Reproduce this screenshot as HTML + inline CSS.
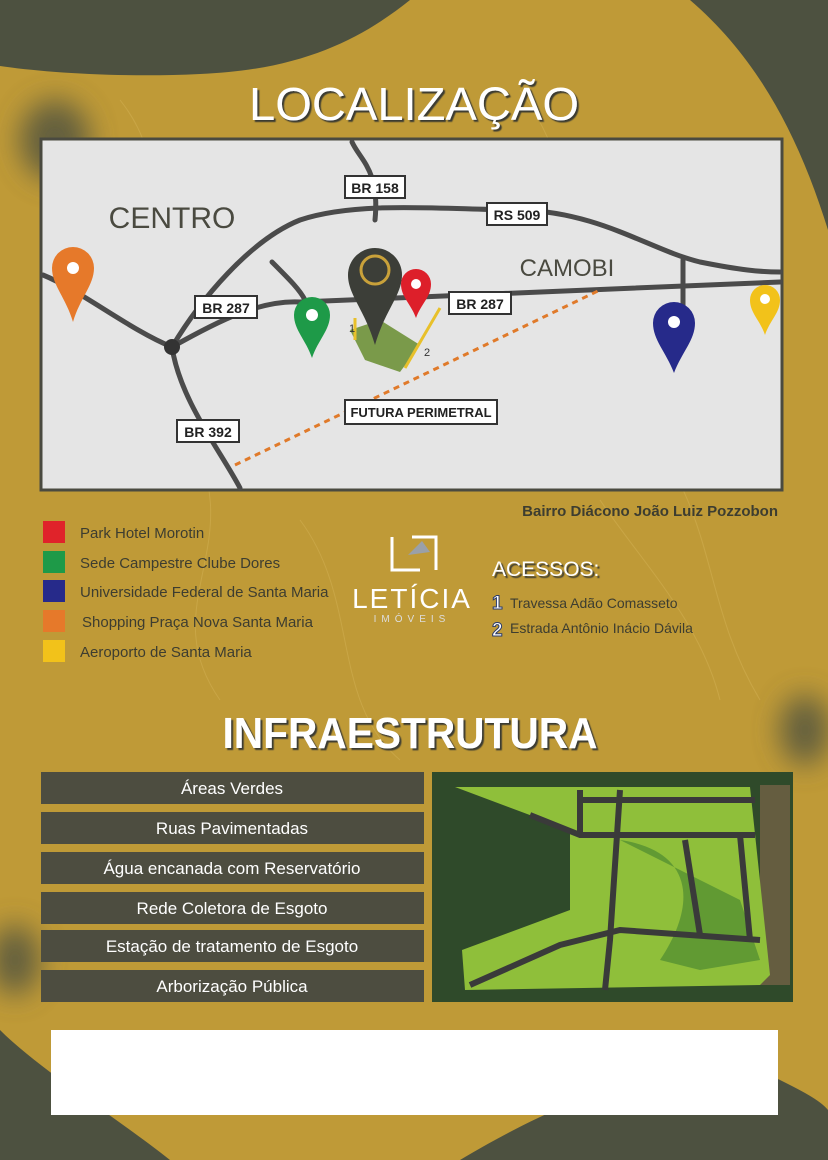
<!DOCTYPE html>
<html><head><meta charset="utf-8"><style>
body{margin:0;width:828px;height:1160px;overflow:hidden;background:#bf9a37;}
svg{display:block}
text{font-family:"Liberation Sans",sans-serif}
</style></head><body>
<svg width="828" height="1160" viewBox="0 0 828 1160" xmlns="http://www.w3.org/2000/svg">
<defs>
<filter id="bl" x="-100%" y="-100%" width="300%" height="300%"><feGaussianBlur stdDeviation="14"/></filter>
<filter id="sh"><feDropShadow dx="2" dy="2" stdDeviation="0.5" flood-color="#3a3a30"/></filter>
</defs>
<rect width="828" height="1160" fill="#bf9a37"/>
<g fill="none" stroke="#d4b256" stroke-width="1" opacity="0.5">
<path d="M120 100 C200 200 100 300 180 420 S150 600 220 700"/>
<path d="M520 90 C600 200 560 320 640 420 S700 600 760 700"/>
<path d="M300 520 C360 600 330 700 400 760"/>
<path d="M600 500 C640 560 700 620 720 700"/>
</g>
<path d="M0 0 L410 0 C360 40 300 70 200 74 C120 78 40 72 0 66 Z" fill="#4d5140"/>
<path d="M690 0 L828 0 L828 230 C800 140 760 60 690 0 Z" fill="#4d5140"/>
<ellipse cx="55" cy="140" rx="35" ry="40" fill="#4d5140" filter="url(#bl)" opacity="0.8"/>
<ellipse cx="805" cy="730" rx="25" ry="35" fill="#4d5140" filter="url(#bl)" opacity="0.8"/>
<ellipse cx="15" cy="960" rx="25" ry="35" fill="#4d5140" filter="url(#bl)" opacity="0.8"/>
<path d="M0 1030 C40 1070 120 1120 170 1160 L0 1160 Z" fill="#4d5140"/>
<path d="M460 1160 C560 1100 700 1040 780 1080 C800 1090 820 1100 828 1110 L828 1160 Z" fill="#4d5140"/>
<text x="414" y="120" text-anchor="middle" font-size="46" fill="#fff" filter="url(#sh)" textLength="330" lengthAdjust="spacingAndGlyphs">LOCALIZAÇÃO</text>
<rect x="41" y="139" width="741" height="351" fill="#e5e5e5" stroke="#4a4a40" stroke-width="3"/>
<g fill="none" stroke="#4b4b4b" stroke-width="5" stroke-linecap="round">
<path d="M43 275 C80 290 130 330 172 347 C220 320 260 300 300 302 L780 282"/>
<path d="M172 347 C180 400 220 450 240 488"/>
<path d="M172 347 C200 300 250 240 300 220 C360 200 450 210 520 210 C600 212 650 250 700 262 C740 270 760 272 780 272"/>
<path d="M352 142 C360 160 380 170 375 220"/>
<path d="M272 262 C290 280 300 290 305 300"/>
<path d="M683 260 L683 305"/>
</g>
<circle cx="172" cy="347" r="8" fill="#333"/>
<path d="M235 465 L600 290" stroke="#e07a2a" stroke-width="3" stroke-dasharray="6 5" fill="none"/>
<g font-size="14" font-weight="bold" fill="#222" text-anchor="middle">
<rect x="345" y="176" width="60" height="22" fill="#fff" stroke="#333" stroke-width="2"/><text x="375" y="193">BR 158</text>
<rect x="487" y="203" width="60" height="22" fill="#fff" stroke="#333" stroke-width="2"/><text x="517" y="220">RS 509</text>
<rect x="195" y="296" width="62" height="22" fill="#fff" stroke="#333" stroke-width="2"/><text x="226" y="313">BR 287</text>
<rect x="449" y="292" width="62" height="22" fill="#fff" stroke="#333" stroke-width="2"/><text x="480" y="309">BR 287</text>
<rect x="177" y="420" width="62" height="22" fill="#fff" stroke="#333" stroke-width="2"/><text x="208" y="437">BR 392</text>
<rect x="345" y="400" width="152" height="24" fill="#fff" stroke="#333" stroke-width="2"/><text x="421" y="417" font-size="13">FUTURA PERIMETRAL</text>
</g>
<text x="172" y="228" font-size="30" fill="#4a4a40" text-anchor="middle">CENTRO</text>
<text x="567" y="276" font-size="24" fill="#4a4a40" text-anchor="middle">CAMOBI</text>
<path d="M350 330 L380 320 L420 345 L400 372 L365 360 Z" fill="#7a9a4a"/>
<path d="M355 318 L355 340 M440 308 L405 368" stroke="#e8c02a" stroke-width="3" fill="none"/>
<text x="349" y="332" font-size="11" fill="#333">1</text>
<text x="424" y="356" font-size="11" fill="#333">2</text>
<g>
<path d="M348 275 A27 27 0 1 1 402 275 C402 295 385 310 375 345 C365 310 348 295 348 275 Z" fill="#3c3e38"/>
<circle cx="375" cy="270" r="14" fill="none" stroke="#c9a13a" stroke-width="3"/>
<path d="M52 268 A21 21 0 1 1 94 268 C94 285 80 298 73 322 C66 298 52 285 52 268Z" fill="#e6792a"/><circle cx="73" cy="268" r="6" fill="#fff"/>
<path d="M294 315 A18 18 0 1 1 330 315 C330 330 318 340 312 358 C306 340 294 330 294 315Z" fill="#1e9a48"/><circle cx="312" cy="315" r="6" fill="#fff"/>
<path d="M401 284 A15 15 0 1 1 431 284 C431 297 421 304 416 318 C411 304 401 297 401 284Z" fill="#dd1f2a"/><circle cx="416" cy="284" r="5" fill="#fff"/>
<path d="M653 323 A21 21 0 1 1 695 323 C695 340 682 352 674 373 C666 352 653 340 653 323Z" fill="#262a8a"/><circle cx="674" cy="322" r="6" fill="#fff"/>
<path d="M750 300 A15 15 0 1 1 780 300 C780 313 770 320 765 335 C760 320 750 313 750 300Z" fill="#f2c21a"/><circle cx="765" cy="299" r="5" fill="#fff"/>
</g>
<text x="778" y="516" font-size="15" fill="#3d3d30" text-anchor="end" font-weight="bold">Bairro Diácono João Luiz Pozzobon</text>
<g font-size="15" fill="#3d3d30">
<rect x="43" y="521" width="22" height="22" fill="#e0232a"/><text x="80" y="538">Park Hotel Morotin</text>
<rect x="43" y="551" width="22" height="22" fill="#1e9a48"/><text x="80" y="568">Sede Campestre Clube Dores</text>
<rect x="43" y="580" width="22" height="22" fill="#262a8a"/><text x="80" y="597">Universidade Federal de Santa Maria</text>
<rect x="43" y="610" width="22" height="22" fill="#e6792a"/><text x="82" y="627">Shopping Praça Nova Santa Maria</text>
<rect x="43" y="640" width="22" height="22" fill="#f2c21a"/><text x="80" y="657">Aeroporto de Santa Maria</text>
</g>
<path d="M392 537 L392 570 L420 570 M412 537 L436 537 L436 570" stroke="#fff" stroke-width="3" fill="none"/>
<path d="M408 555 L422 541 L430 552 Z" fill="#9aa0a8"/>
<text x="412" y="608" font-size="28" fill="#fff" text-anchor="middle" letter-spacing="2">LETÍCIA</text>
<text x="412" y="622" font-size="10" fill="#ddd" text-anchor="middle" letter-spacing="5">IMÓVEIS</text>
<text x="492" y="576" font-size="21" fill="#fff" filter="url(#sh)">ACESSOS:</text>
<g font-size="14" fill="#3d3d30">
<text x="492" y="609" font-size="19" font-weight="bold" fill="#fff" stroke="#2a3a6a" stroke-width="1">1</text><text x="510" y="608">Travessa Adão Comasseto</text>
<text x="492" y="636" font-size="19" font-weight="bold" fill="#fff" stroke="#2a3a6a" stroke-width="1">2</text><text x="510" y="633">Estrada Antônio Inácio Dávila</text>
</g>
<text x="410" y="748" font-size="44" fill="#fff" text-anchor="middle" filter="url(#sh)" textLength="375" lengthAdjust="spacingAndGlyphs" font-weight="bold">INFRAESTRUTURA</text>
<g fill="#4d4d40">
<rect x="41" y="772" width="383" height="32"/><rect x="41" y="812" width="383" height="32"/>
<rect x="41" y="852" width="383" height="32"/><rect x="41" y="892" width="383" height="32"/>
<rect x="41" y="930" width="383" height="32"/><rect x="41" y="970" width="383" height="32"/>
</g>
<g font-size="17" fill="#fff" text-anchor="middle">
<text x="232" y="794">Áreas Verdes</text><text x="232" y="834">Ruas Pavimentadas</text>
<text x="232" y="874">Água encanada com Reservatório</text><text x="232" y="914">Rede Coletora de Esgoto</text>
<text x="232" y="952">Estação de tratamento de Esgoto</text><text x="232" y="992">Arborização Pública</text>
</g>
<rect x="432" y="772" width="361" height="230" fill="#2f4a2a"/>
<rect x="760" y="785" width="30" height="200" fill="#8a6a50" opacity="0.6"/>
<path d="M455 787 L750 787 L770 975 L760 985 L465 990 L462 950 L570 910 L570 830 Z" fill="#8fbf3a"/>
<path d="M620 840 C690 850 700 900 660 960 L700 970 L760 960 L740 900 Z" fill="#4d8a30" opacity="0.7"/>
<g stroke="#3a3a3a" stroke-width="6" fill="none">
<path d="M530 815 L580 835 L755 835"/><path d="M580 800 L755 800"/>
<path d="M620 790 L610 940 L605 990"/><path d="M685 840 L700 935"/><path d="M740 835 L750 940"/>
<path d="M470 985 L560 945 L620 930 L760 940"/><path d="M580 790 L580 835"/>
</g>
<rect x="51" y="1030" width="727" height="85" fill="#fff"/>
</svg>
</body></html>
